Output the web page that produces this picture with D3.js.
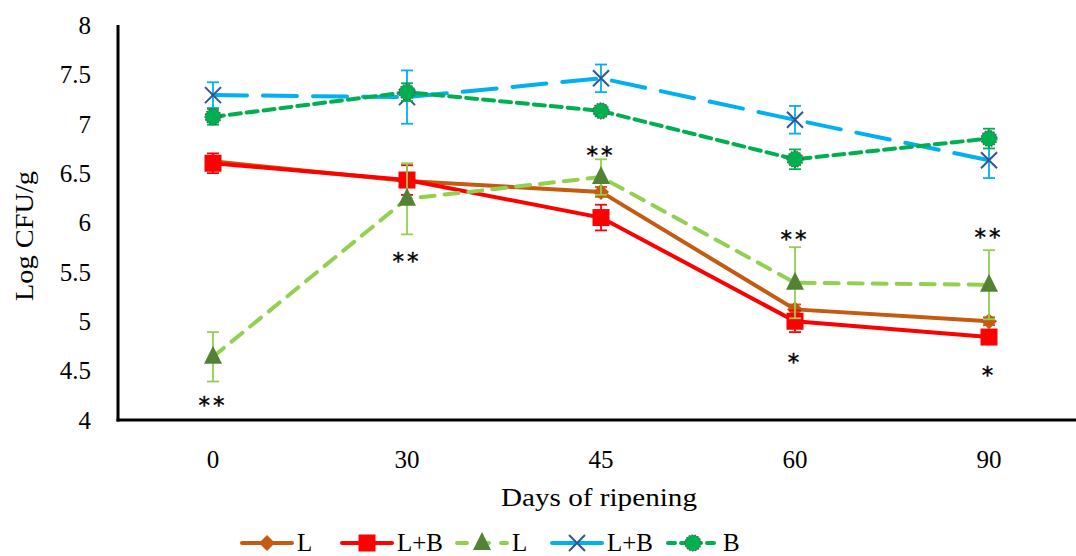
<!DOCTYPE html>
<html>
<head>
<meta charset="utf-8">
<script src="https://cdn.jsdelivr.net/npm/d3@7"></script>
<style>
  html, body { margin: 0; padding: 0; background: #fff; }
  svg text { font-family: "Liberation Serif", "Times New Roman", serif; fill: #000; }
</style>
</head>
<body>
<svg id="chart" width="1076" height="556"></svg>
<script>
// Days of ripening (categories)
const days = ["0", "30", "45", "60", "90"];
const yTicks = [4, 4.5, 5, 5.5, 6, 6.5, 7, 7.5, 8];

// Series means (log CFU/g) and error half-widths
const lMean   = [6.62, 6.42, 6.31, 5.12, 5.00];
const lErr    = [0.05, 0.05, 0.05, 0.05, 0.04];
const lbMean  = [6.60, 6.43, 6.05, 5.00, 4.84];
const lbErr   = [0.10, 0.15, 0.13, 0.11, 0.05];
const l2Mean  = [4.64, 6.24, 6.46, 5.39, 5.37];
const l2Err   = [0.25, 0.36, 0.18, 0.36, 0.35];
const lb2Mean = [7.29, 7.27, 7.46, 7.04, 6.63];
const lb2Err  = [0.13, 0.27, 0.14, 0.14, 0.18];
const bMean   = [7.07, 7.32, 7.13, 6.64, 6.85];
const bErr    = [0.08, 0.09, 0.05, 0.10, 0.10];

// Significance marks: [day, value position, text]
const marks = [
  ["0", 4.20, "**"], ["30", 5.66, "**"], ["45", 6.73, "**"],
  ["60", 5.88, "**"], ["90", 5.90, "**"], ["60", 4.63, "*"], ["90", 4.50, "*"]
];

const series = [
  { name: "L",   mean: lMean,   err: lErr,   line: "#C55A11", dash: null,    marker: "diamond",  fill: "#C55A11", bar: "#C55A11" },
  { name: "L+B", mean: lbMean,  err: lbErr,  line: "#FF0000", dash: null,    marker: "square",   fill: "#FF0000", bar: "#FF0000" },
  { name: "L",   mean: l2Mean,  err: l2Err,  line: "#92D050", dash: "14,10", marker: "triangle", fill: "#548235", bar: "#92D050" },
  { name: "L+B", mean: lb2Mean, err: lb2Err, line: "#00B0F0", dash: "34,16", marker: "x",        fill: "#2F5597", bar: "#00B0F0" },
  { name: "B",   mean: bMean,   err: bErr,   line: "#00B050", dash: "11,6",  marker: "circle",   fill: "#00B050", bar: "#00B050" }
];

const svg = d3.select("#chart");
const plotLeft = 118, plotRight = 1076, plotTop = 25, plotBottom = 420;

const x = d3.scalePoint().domain(days).range([213, 989]);
const y = d3.scaleLinear().domain([4, 8]).range([plotBottom, plotTop]);

// Y tick labels
svg.append("g").selectAll("text").data(yTicks).join("text")
  .attr("x", 91).attr("y", d => y(d)).attr("dy", "0.35em")
  .attr("text-anchor", "end").attr("font-size", 25)
  .text(d => d);

// X tick labels
svg.append("g").selectAll("text").data(days).join("text")
  .attr("x", d => x(d)).attr("y", 459).attr("dy", "0.35em")
  .attr("text-anchor", "middle").attr("font-size", 25)
  .text(d => d);

// Axis titles
svg.append("text").attr("x", 599).attr("y", 497).attr("dy", "0.35em")
  .attr("text-anchor", "middle").attr("font-size", 25)
  .attr("textLength", 196).attr("lengthAdjust", "spacingAndGlyphs")
  .text("Days of ripening");
svg.append("text").attr("transform", "translate(24,236) rotate(-90)").attr("dy", "0.35em")
  .attr("text-anchor", "middle").attr("font-size", 25)
  .attr("textLength", 130).attr("lengthAdjust", "spacingAndGlyphs")
  .text("Log CFU/g");

// Axis lines
svg.append("line").attr("x1", plotLeft).attr("x2", plotLeft).attr("y1", plotTop).attr("y2", plotBottom + 1.5)
  .attr("stroke", "#000").attr("stroke-width", 3);
svg.append("line").attr("x1", plotLeft - 1.5).attr("x2", plotRight).attr("y1", plotBottom).attr("y2", plotBottom)
  .attr("stroke", "#000").attr("stroke-width", 3);

function drawMarker(g, type, cx, cy, s) {
  if (type === "diamond") {
    g.append("path").attr("d", `M${cx},${cy - 8}L${cx + 8},${cy}L${cx},${cy + 8}L${cx - 8},${cy}Z`)
      .attr("fill", s.fill);
  } else if (type === "square") {
    g.append("rect").attr("x", cx - 8.5).attr("y", cy - 8.5).attr("width", 17).attr("height", 17)
      .attr("fill", s.fill);
  } else if (type === "triangle") {
    g.append("path").attr("d", `M${cx},${cy - 11}L${cx + 9},${cy + 7}L${cx - 9},${cy + 7}Z`)
      .attr("fill", s.fill);
  } else if (type === "x") {
    g.append("path").attr("d", `M${cx - 8},${cy - 8}L${cx + 8},${cy + 8}M${cx + 8},${cy - 8}L${cx - 8},${cy + 8}`)
      .attr("stroke", s.fill).attr("stroke-width", 2).attr("fill", "none");
  } else if (type === "circle") {
    g.append("circle").attr("cx", cx).attr("cy", cy).attr("r", 8)
      .attr("fill", s.fill).attr("stroke", "#555").attr("stroke-width", 1.2)
      .attr("stroke-dasharray", "1.5,1.5");
  }
}

const line = d3.line().x((d, i) => x(days[i])).y(d => y(d));

series.forEach(s => {
  const g = svg.append("g");
  // error bars
  s.mean.forEach((m, i) => {
    const cx = x(days[i]);
    const y1 = y(m + s.err[i]), y2 = y(m - s.err[i]);
    g.append("line").attr("x1", cx).attr("x2", cx).attr("y1", y1).attr("y2", y2)
      .attr("stroke", s.bar).attr("stroke-width", 1.8);
    [y1, y2].forEach(yy => g.append("line").attr("x1", cx - 6).attr("x2", cx + 6)
      .attr("y1", yy).attr("y2", yy).attr("stroke", s.bar).attr("stroke-width", 1.8));
  });
  g.append("path").datum(s.mean).attr("d", line)
    .attr("fill", "none").attr("stroke", s.line).attr("stroke-width", 4)
    .attr("stroke-linecap", "round").attr("stroke-dasharray", s.dash);
  s.mean.forEach((m, i) => drawMarker(g, s.marker, x(days[i]), y(m), s));
});

// Significance marks
svg.append("g").selectAll("text").data(marks).join("text")
  .attr("x", d => x(d[0])).attr("y", d => y(d[1])).attr("dy", "0.55em")
  .attr("text-anchor", "middle").attr("font-size", 23)
  .style("font-family", "'DejaVu Sans', sans-serif").style("letter-spacing", "3px")
  .style("stroke", "#000").style("stroke-width", 0.4)
  .text(d => d[2]);

// Legend
const legendX = [242, 342, 457, 552, 668];
const lg = svg.append("g");
series.forEach((s, i) => {
  const x0 = legendX[i], ly = 543;
  lg.append("line").attr("x1", x0).attr("x2", x0 + 50).attr("y1", ly).attr("y2", ly)
    .attr("stroke", s.line).attr("stroke-width", 4).attr("stroke-linecap", "round")
    .attr("stroke-dasharray", s.dash ? (s.marker === "x" ? "22,6" : (s.marker === "triangle" ? "10,12" : "7,6")) : null);
  drawMarker(lg, s.marker, x0 + 25, ly, s);
  lg.append("text").attr("x", x0 + 55).attr("y", ly).attr("dy", "0.33em")
    .attr("font-size", 25).text(s.name);
});
</script>
</body>
</html>
